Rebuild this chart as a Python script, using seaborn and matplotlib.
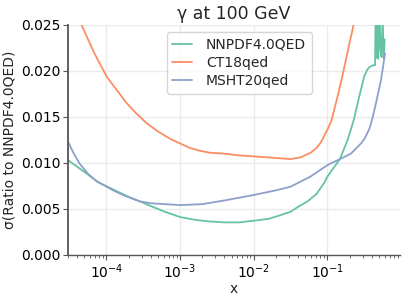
import numpy as np
import pandas as pd
import matplotlib
matplotlib.use("Agg")
import matplotlib.pyplot as plt
import seaborn as sns

# x values are given as log10(x)
# NNPDF4.0QED
lx_nnpdf = [-4.523, -4.3, -4.115, -3.91, -3.7, -3.546, -3.4, -3.2, -3.0, -2.8, -2.6,
            -2.4, -2.2, -2.0, -1.8, -1.68, -1.5, -1.4, -1.27, -1.15, -1.045, -1.0,
            -0.92, -0.83, -0.725, -0.644, -0.58, -0.5, -0.46, -0.43, -0.385, -0.353,
            -0.345, -0.335, -0.322, -0.31, -0.295, -0.28, -0.265, -0.25, -0.235, -0.222]
s_nnpdf = [0.0103, 0.0090, 0.0079, 0.0071, 0.0063, 0.0058, 0.0053, 0.00465, 0.0041,
           0.0038, 0.00362, 0.00352, 0.00352, 0.0037, 0.0039, 0.0042, 0.00467, 0.0052,
           0.0058, 0.0066, 0.0078, 0.0085, 0.0094, 0.0104, 0.0125, 0.0146, 0.0168,
           0.0194, 0.0201, 0.0204, 0.0206, 0.0206, 0.0270, 0.0214, 0.0290, 0.0213,
           0.0280, 0.0222, 0.0215, 0.0260, 0.0213, 0.0234]

# CT18qed
lx_ct18 = [-4.523, -4.34, -4.17, -4.0, -3.85, -3.727, -3.6, -3.454, -3.3, -3.136, -3.0,
           -2.864, -2.727, -2.6, -2.409, -2.2, -2.0, -1.75, -1.5, -1.36, -1.226, -1.15,
           -1.09, -1.0, -0.945, -0.862, -0.8, -0.749, -0.7, -0.644, -0.6]
s_ct18 = [0.0278, 0.0250, 0.0220, 0.0194, 0.0178, 0.0165, 0.0154, 0.0143, 0.0134,
          0.0126, 0.0121, 0.0116, 0.0113, 0.0111, 0.0110, 0.0108, 0.0107, 0.01055,
          0.0104, 0.0106, 0.0111, 0.0116, 0.0122, 0.0136, 0.0146, 0.0172, 0.0193,
          0.0212, 0.0230, 0.0250, 0.0270]

# MSHT20qed
lx_msht = [-4.523, -4.45, -4.364, -4.25, -4.136, -4.0, -3.91, -3.75, -3.546, -3.4,
           -3.2, -3.0, -2.7, -2.4, -2.0, -1.7, -1.5, -1.23, -1.0, -0.83, -0.68, -0.544,
           -0.49, -0.43, -0.39, -0.34, -0.272, -0.217]
s_msht = [0.0123, 0.0111, 0.0099, 0.0088, 0.0080, 0.0074, 0.0070, 0.0064, 0.0058,
          0.0056, 0.0055, 0.0054, 0.0055, 0.0059, 0.0065, 0.0070, 0.0074, 0.0085,
          0.00975, 0.0104, 0.0110, 0.0121, 0.0127, 0.0137, 0.0148, 0.0165, 0.0190, 0.0219]

labels = ["NNPDF4.0QED", "CT18qed", "MSHT20qed"]

df = pd.concat([
    pd.DataFrame({"x": np.power(10.0, lx_nnpdf), "sigma": s_nnpdf, "pdf": labels[0]}),
    pd.DataFrame({"x": np.power(10.0, lx_ct18), "sigma": s_ct18, "pdf": labels[1]}),
    pd.DataFrame({"x": np.power(10.0, lx_msht), "sigma": s_msht, "pdf": labels[2]}),
])

sns.set_theme(style="whitegrid", rc={
    "grid.color": "#ebebeb",
    "axes.edgecolor": "#555555",
    "xtick.bottom": True,
    "ytick.left": True,
    "xtick.color": "#555555",
    "ytick.color": "#555555",
})

fig = plt.figure(figsize=(4.07, 2.99), dpi=100)
ax = fig.add_axes([0.167, 0.148, 0.816, 0.769])

sns.lineplot(data=df, x="x", y="sigma", hue="pdf", hue_order=labels,
             palette="Set2", estimator=None, sort=False, linewidth=1.3, ax=ax)

ax.set_xscale("log")
ax.set_xlim(3e-5, 0.97)
ax.set_ylim(0, 0.025)
ax.set_yticks([0, 0.005, 0.01, 0.015, 0.02, 0.025])
ax.set_yticklabels(["0.000", "0.005", "0.010", "0.015", "0.020", "0.025"])
ax.tick_params(axis="both", labelsize=10, labelcolor="black", length=3.5, width=0.8, pad=2)
ax.tick_params(axis="x", which="minor", length=2, width=0.6, bottom=True)
ax.set_xlabel("x", fontsize=10, labelpad=1)
ax.set_ylabel("σ(Ratio to NNPDF4.0QED)", fontsize=10, labelpad=3)
ax.set_title("γ at 100 GeV", fontsize=12.5, pad=4)
ax.spines["left"].set_linewidth(1.3)
ax.spines["bottom"].set_linewidth(1.0)
sns.despine(ax=ax)

ax.legend(title=None, fontsize=10, loc="upper left", bbox_to_anchor=(0.298, 0.968),
          borderaxespad=0, frameon=True, handlelength=1.4, handletextpad=1.0,
          borderpad=0.4, labelspacing=0.3)

fig.savefig("out.png", dpi=100)
